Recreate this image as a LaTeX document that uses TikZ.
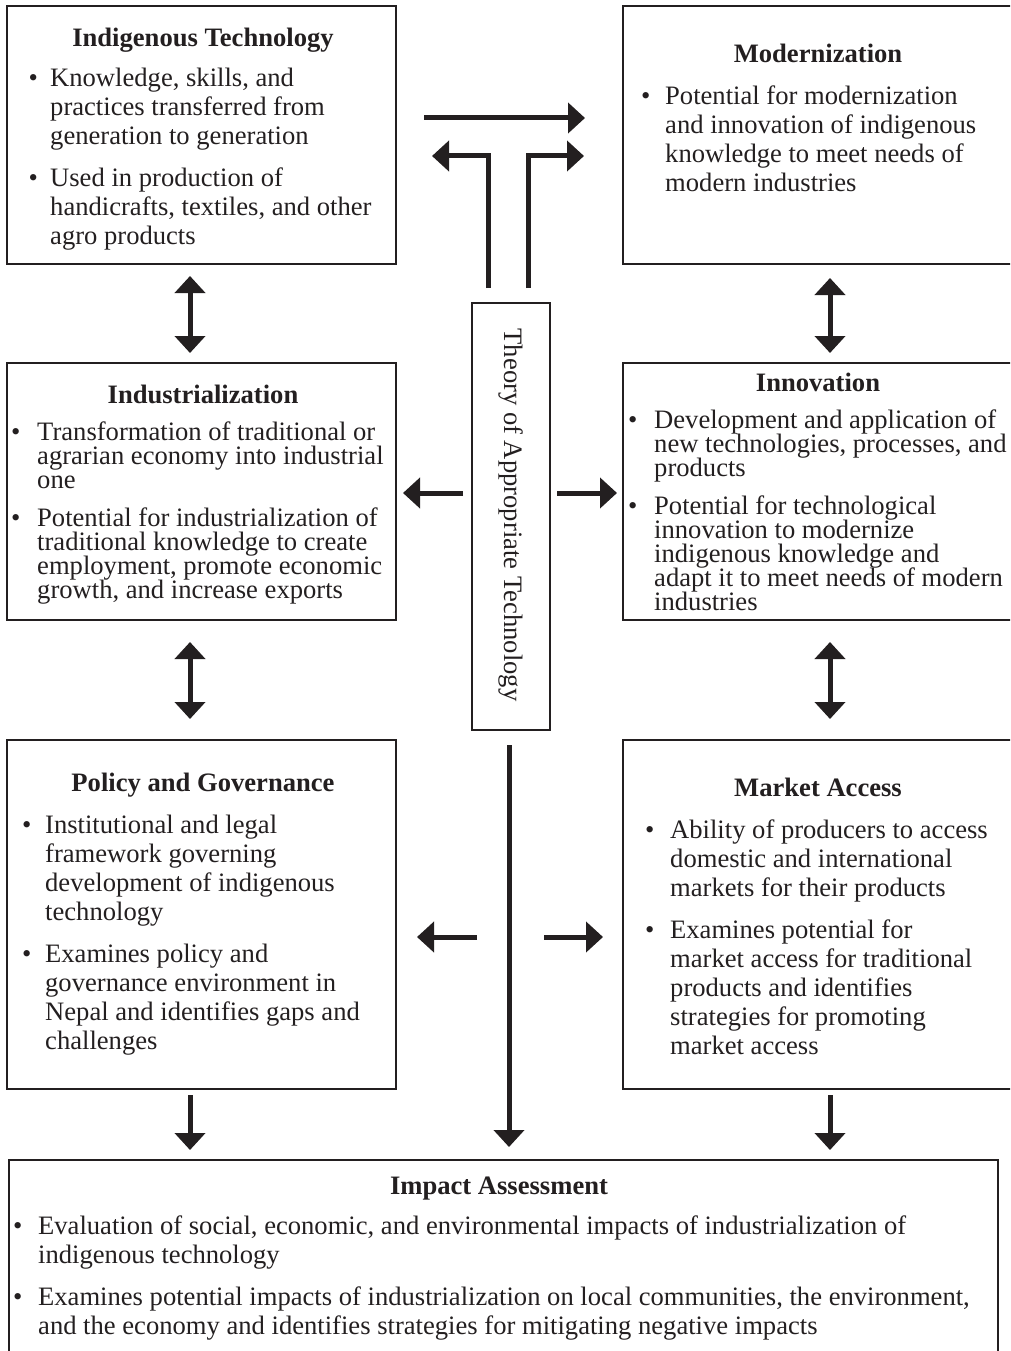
\documentclass[tikz,border=0pt]{standalone}
\usepackage{fontspec}
\setmainfont{Liberation Serif}
\usetikzlibrary{arrows.meta}
\definecolor{ink}{RGB}{35,31,32}

% hanging-indent bullet item (lines broken with \newline so the indent holds)
\newlength{\bulind}
\newcommand{\bul}[1]{\par\hangindent=\bulind\hangafter=1\noindent\makebox[\bulind][l]{\textbullet}#1}
% bullet block: width, indent, gap between items, items (fixed line pitch)
\newcommand{\blist}[4]{\parbox[t]{#1}{\lineskiplimit=-100pt\setlength{\bulind}{#2}\setlength{\parskip}{#3}\setlength{\parindent}{0pt}#4}}
\newcommand{\nl}{\newline}

\tikzset{
  box/.style={draw=ink, line width=2.6pt, rectangle, inner sep=0pt},
  ttl/.style={anchor=base, inner sep=0pt, text=ink, font=\fontsize{26.6}{29}\selectfont\bfseries},
  txt/.style={anchor=base west, inner sep=0pt, text=ink, font=\fontsize{26.6}{29}\selectfont},
  tighttxt/.style={anchor=base west, inner sep=0pt, text=ink, font=\fontsize{26.6}{24}\selectfont},
  arr/.style={draw=ink, line width=5pt, -{Triangle[width=30pt,length=17pt]}},
  darr/.style={draw=ink, line width=5pt, {Triangle[width=30pt,length=17pt]}-{Triangle[width=30pt,length=17pt]}},
}

\begin{document}
\begin{tikzpicture}[x=1pt,y=-1pt]
\useasboundingbox (0,0) rectangle (1010,1351);
\clip (0,0) rectangle (1010,1351);

% boxes
\node[box, minimum width=389pt, minimum height=258pt] (it)  at (201.5,135) {};
\node[box, minimum width=393pt, minimum height=258pt] (mod) at (819.5,135) {};
\node[box, minimum width=389pt, minimum height=257pt] (ind) at (201.5,491.5) {};
\node[box, minimum width=393pt, minimum height=257pt] (inn) at (819.5,491.5) {};
\node[box, minimum width=389pt, minimum height=349pt] (pol) at (201.5,914.5) {};
\node[box, minimum width=393pt, minimum height=349pt] (mkt) at (819.5,914.5) {};
\node[box, minimum width=989pt, minimum height=220pt] (imp) at (503.5,1270) {};
\node[box, line width=2.2pt, minimum width=78pt, minimum height=427pt] (th) at (511,516.5) {};
\node[rotate=-90, inner sep=0pt, text=ink, font=\fontsize{26.6}{29}\selectfont] (thtext) at (511,515) {Theory of Appropriate Technology};

% titles
\node[ttl] (itT)  at (203,46.5)   {Indigenous Technology};
\node[ttl] (modT) at (818,62.5)   {Modernization};
\node[ttl] (indT) at (203,403.5)  {Industrialization};
\node[ttl] (innT) at (818,391.5)  {Innovation};
\node[ttl] (polT) at (203,791.5)  {Policy and Governance};
\node[ttl] (mktT) at (818,796.5)  {Market Access};
\node[ttl] (impT) at (499,1194.5) {Impact Assessment};

% bullet texts
\node[txt] (itB) at (28.5,87) {\blist{370pt}{21.5pt}{13pt}{%
  \bul{Knowledge, skills, and\nl practices transferred from\nl generation to generation}%
  \bul{Used in production of\nl handicrafts, textiles, and other\nl agro products}}};
\node[txt] (modB) at (641,104.5) {\blist{370pt}{24pt}{13pt}{%
  \bul{Potential for modernization\nl and innovation of indigenous\nl knowledge to meet needs of\nl modern industries}}};
\node[tighttxt] (indB) at (11,440.5) {\blist{390pt}{26pt}{14pt}{%
  \bul{Transformation of traditional or\nl agrarian economy into industrial\nl one}%
  \bul{Potential for industrialization of\nl traditional knowledge to create\nl employment, promote economic\nl growth, and increase exports}}};
\node[tighttxt] (innB) at (628,428.5) {\blist{390pt}{26pt}{14pt}{%
  \bul{Development and application of\nl new technologies, processes, and\nl products}%
  \bul{Potential for technological\nl innovation to modernize\nl indigenous knowledge and\nl adapt it to meet needs of modern\nl industries}}};
\node[txt] (polB) at (22,833.5) {\blist{370pt}{23pt}{13pt}{%
  \bul{Institutional and legal\nl framework governing\nl development of indigenous\nl technology}%
  \bul{Examines policy and\nl governance environment in\nl Nepal and identifies gaps and\nl challenges}}};
\node[txt] (mktB) at (645,838.5) {\blist{370pt}{25pt}{13pt}{%
  \bul{Ability of producers to access\nl domestic and international\nl markets for their products}%
  \bul{Examines potential for\nl market access for traditional\nl products and identifies\nl strategies for promoting\nl market access}}};
\node[txt] (impB) at (13,1234.5) {\blist{985pt}{25pt}{13pt}{%
  \bul{Evaluation of social, economic, and environmental impacts of industrialization of\nl indigenous technology}%
  \bul{Examines potential impacts of industrialization on local communities, the environment,\nl and the economy and identifies strategies for mitigating negative impacts}}};

% connector end points
\coordinate (topA) at (424,118);  \coordinate (topB) at (585,118);
\coordinate (tl0) at (488,288);   \coordinate (tl1) at (432,156);
\coordinate (tr0) at (528,288);   \coordinate (tr1) at (584,156);
\coordinate (l1a) at (190,276);   \coordinate (l1b) at (190,353);
\coordinate (r1a) at (830,278);   \coordinate (r1b) at (830,353);
\coordinate (l2a) at (190,642);   \coordinate (l2b) at (190,719);
\coordinate (r2a) at (830,642);   \coordinate (r2b) at (830,719);
\coordinate (mlA) at (463,493);   \coordinate (mlB) at (403,493);
\coordinate (mrA) at (557,493);   \coordinate (mrB) at (617,493);
\coordinate (blA) at (477,937);   \coordinate (blB) at (417,937);
\coordinate (brA) at (544,937);   \coordinate (brB) at (603,937);
\coordinate (cA) at (509,745);    \coordinate (cB) at (509,1147);
\coordinate (dlA) at (190,1095);  \coordinate (dlB) at (190,1150);
\coordinate (drA) at (830,1095);  \coordinate (drB) at (830,1150);

% connectors
\draw[arr] (topA) -- (topB);
\draw[arr, line join=miter] (tl0) |- (tl1);
\draw[arr, line join=miter] (tr0) |- (tr1);
\draw[darr] (l1a) -- (l1b);
\draw[darr] (r1a) -- (r1b);
\draw[darr] (l2a) -- (l2b);
\draw[darr] (r2a) -- (r2b);
\draw[arr] (mlA) -- (mlB);
\draw[arr] (mrA) -- (mrB);
\draw[arr] (blA) -- (blB);
\draw[arr] (brA) -- (brB);
\draw[arr] (cA) -- (cB);
\draw[arr] (dlA) -- (dlB);
\draw[arr] (drA) -- (drB);
\end{tikzpicture}
\end{document}
